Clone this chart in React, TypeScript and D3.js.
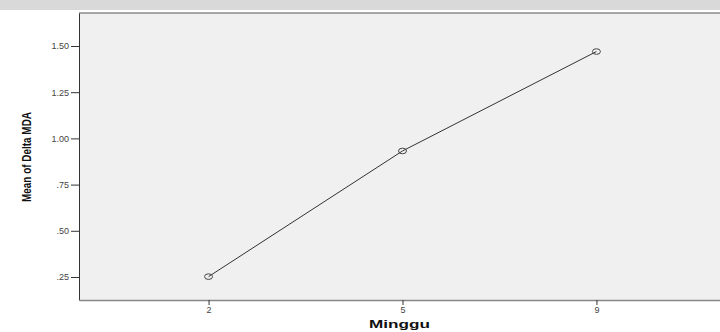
import React, { useRef, useEffect } from 'react';
import * as d3 from 'd3';

// weeks (Minggu) and mean of Delta MDA
const weeks = ['2', '5', '9'];
const meanDeltaMDA = [0.252, 0.932, 1.47];
const yTicks = [0.25, 0.5, 0.75, 1.0, 1.25, 1.5];
const yTickLabels = ['.25', '.50', '.75', '1.00', '1.25', '1.50'];

const W = 720;
const H = 332;

const App = () => {
  const svgRef = useRef(null);

  useEffect(() => {
    const svg = d3.select(svgRef.current);
    svg.selectAll('*').remove();

    const left = 79;
    const top = 13;
    const right = 726; // plot runs off the right edge of the picture
    const bottom = 300;

    const x = d3.scalePoint().domain(weeks).range([left, right]).padding(0.668);
    const y = d3.scaleLinear().domain([0.1255, 1.6786]).range([bottom, top]);

    // grey band at the top
    svg.append('rect').attr('x', 0).attr('y', 0).attr('width', W).attr('height', 10).attr('fill', '#d9d9d9');

    // plot area
    svg.append('rect')
      .attr('x', left).attr('y', top)
      .attr('width', right - left).attr('height', bottom - top)
      .attr('fill', '#f0f0f0');
    svg.append('line').attr('x1', left).attr('x2', right).attr('y1', top).attr('y2', top)
      .attr('stroke', '#555').attr('stroke-width', 1);

    const font = 'Arial, "Liberation Sans", sans-serif';

    // y axis
    const yAxis = svg.append('g').attr('transform', `translate(${left},0)`)
      .call(d3.axisLeft(y).tickValues(yTicks).tickSize(8).tickSizeOuter(0).tickPadding(2)
        .tickFormat((d, i) => yTickLabels[i]));
    yAxis.select('.domain').attr('stroke', '#333').attr('stroke-width', 1);
    yAxis.selectAll('.tick line').attr('stroke', '#333');
    yAxis.selectAll('.tick text').attr('fill', '#444').attr('font-size', 9).attr('font-family', font);

    // x axis
    const xAxis = svg.append('g').attr('transform', `translate(0,${bottom})`)
      .call(d3.axisBottom(x).tickSize(5).tickPadding(2).tickSizeOuter(0));
    xAxis.select('.domain').attr('stroke', '#888').attr('stroke-width', 1.6);
    xAxis.selectAll('.tick line').attr('stroke', '#333');
    xAxis.selectAll('.tick text').attr('fill', '#444').attr('font-size', 9).attr('font-family', font);

    // line
    const line = d3.line().x((d, i) => x(weeks[i])).y(d => y(d));
    svg.append('path')
      .datum(meanDeltaMDA)
      .attr('d', line)
      .attr('fill', 'none')
      .attr('stroke', '#333')
      .attr('stroke-width', 1);

    // markers
    svg.selectAll('ellipse.pt')
      .data(meanDeltaMDA)
      .enter()
      .append('ellipse')
      .attr('class', 'pt')
      .attr('cx', (d, i) => x(weeks[i]))
      .attr('cy', d => y(d))
      .attr('rx', 4)
      .attr('ry', 2.8)
      .attr('fill', 'none')
      .attr('stroke', '#444')
      .attr('stroke-width', 1);

    // axis titles
    svg.append('text')
      .attr('x', (left + right) / 2 - 3).attr('y', 328)
      .attr('text-anchor', 'middle')
      .attr('font-family', font).attr('font-weight', 'bold').attr('font-size', 11)
      .attr('textLength', 61).attr('lengthAdjust', 'spacingAndGlyphs')
      .attr('fill', '#111')
      .text('Minggu');

    svg.append('text')
      .attr('transform', `translate(31,157) rotate(-90)`)
      .attr('text-anchor', 'middle')
      .attr('font-family', font).attr('font-weight', 'bold').attr('font-size', 12)
      .attr('textLength', 90).attr('lengthAdjust', 'spacingAndGlyphs')
      .attr('fill', '#111')
      .text('Mean of Delta MDA');
  }, []);

  return (
    <div style={{ position: 'absolute', left: 0, top: 0 }}>
      <svg ref={svgRef} width={W} height={H} style={{ display: 'block', background: '#fff' }} />
    </div>
  );
};

export default App;
